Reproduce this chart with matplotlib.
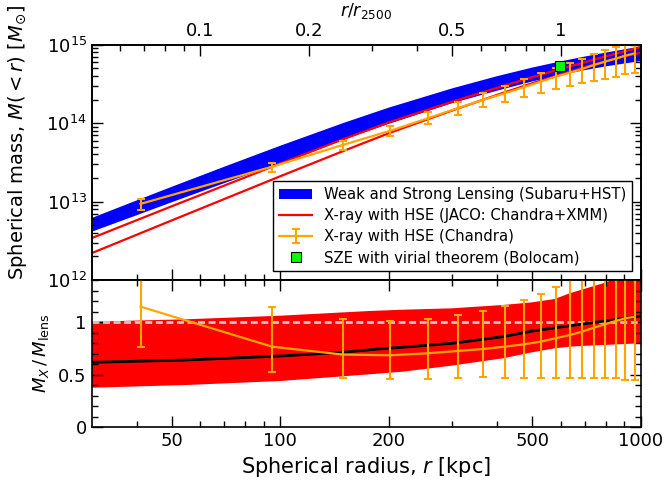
import matplotlib
matplotlib.use('Agg')
import matplotlib.pyplot as plt
from matplotlib.ticker import FixedLocator, FixedFormatter, NullFormatter, MultipleLocator

# ---------------- data ----------------
r2500 = 600.0  # kpc

# Lensing (Subaru+HST) mass band
lens_r = [30, 40, 50, 70, 100, 150, 200, 300, 400, 500, 600, 700, 800, 1000]
lens_hi = [6.17e12, 1.035e13, 1.542e13, 2.786e13, 5.152e13, 1.009e14, 1.578e14,
           2.780e14, 3.981e14, 5.117e14, 6.138e14, 7.079e14, 7.943e14, 9.506e14]
lens_lo = [4.12e12, 6.7e12, 9.8e12, 1.72e13, 3.1e13, 6.2e13, 9.8e13,
           1.8e14, 2.6e14, 3.4e14, 4.1e14, 4.75e14, 5.3e14, 6.2e14]

# X-ray JACO (Chandra+XMM) two curves
jaco_r = [30, 50, 100, 150, 200, 300, 400, 500, 600, 800, 1000]
jaco_hi = [3.42e12, 8.71e12, 3.055e13, 6.28e13, 1.023e14, 1.879e14, 2.831e14,
           3.855e14, 4.932e14, 7.129e14, 9.354e14]
jaco_lo = [2.20e12, 5.75e12, 2.104e13, 4.436e13, 7.447e13, 1.452e14, 2.301e14,
           3.228e14, 4.207e14, 6.209e14, 7.943e14]

# X-ray HSE (Chandra) points
chandra_r = [41, 95, 149, 202, 256, 310, 365, 419, 473, 527, 580, 635, 687, 740,
             795, 850, 905, 960]
chandra_m = [9.35e12, 2.79e13, 5.27e13, 8.0e13, 1.15e14, 1.55e14, 1.98e14, 2.40e14,
             2.87e14, 3.38e14, 3.91e14, 4.40e14, 4.90e14, 5.50e14, 6.07e14, 6.63e14,
             7.25e14, 7.76e14]
chandra_hi = [1.08e13, 3.14e13, 5.93e13, 9.3e13, 1.40e14, 1.88e14, 2.40e14, 3.00e14,
              3.62e14, 4.33e14, 5.10e14, 5.80e14, 6.58e14, 7.62e14, 8.55e14, 9.45e14,
              1.05e15, 1.10e15]
chandra_lo = [7.83e12, 2.41e13, 4.56e13, 6.87e13, 9.68e13, 1.27e14, 1.60e14, 1.88e14,
              2.18e14, 2.40e14, 2.70e14, 2.98e14, 3.22e14, 3.45e14, 3.62e14, 3.91e14,
              4.20e14, 4.33e14]

# SZE (Bolocam)
sze_r = [598]
sze_m = [5.36e14]

# Ratio panel
ratio_pts = [1.146, 0.765, 0.69, 0.683, 0.702, 0.724, 0.743, 0.765, 0.787, 0.813,
             0.845, 0.876, 0.908, 0.946, 0.978, 1.01, 1.035, 1.05]
ratio_hi = [1.60, 1.14, 1.029, 1.012, 1.029, 1.067, 1.108, 1.155, 1.212, 1.27, 1.333,
            1.45, 1.55, 1.65, 1.75, 1.85, 1.95, 2.0]
ratio_lo = [0.765, 0.52, 0.47, 0.454, 0.454, 0.464, 0.473, 0.47, 0.47, 0.47, 0.47,
            0.47, 0.47, 0.468, 0.464, 0.464, 0.45, 0.45]

band_r = [30, 55, 100, 177, 219, 298, 414, 498, 576, 634, 705, 784, 1000]
band_hi = [1.003, 1.026, 1.06, 1.105, 1.117, 1.13, 1.162, 1.187, 1.219, 1.273, 1.321,
           1.368, 1.5]
band_lo = [0.374, 0.40, 0.438, 0.502, 0.527, 0.584, 0.654, 0.711, 0.749, 0.765, 0.774,
           0.781, 0.797]

ratio_line_r = [30, 55, 100, 148, 187, 229, 300, 414, 500, 690, 1000]
ratio_line = [0.616, 0.638, 0.676, 0.711, 0.743, 0.765, 0.797, 0.86, 0.914, 0.981, 1.057]

xticks = [50, 100, 200, 500, 1000]
xminor = [40, 60, 70, 80, 90, 300, 400, 600, 700, 800, 900]
top_ticks = [0.1, 0.2, 0.5, 1]
top_minor = [0.06, 0.07, 0.08, 0.09, 0.3, 0.4, 0.6, 0.7, 0.8, 0.9]

# ---------------- figure ----------------
W, H = 668, 480
fig = plt.figure(figsize=(W / 100, H / 100), dpi=100)
L, R = 91.7, 641.0
ax1 = fig.add_axes([L / W, 1 - 280 / H, (R - L) / W, (280 - 44.7) / H])
ax2 = fig.add_axes([L / W, 1 - 427 / H, (R - L) / W, (427 - 280) / H])

orange = '#FFA500'

# ---- top panel ----
h_lens = ax1.fill_between(lens_r, lens_lo, lens_hi, facecolor='blue', edgecolor='none',
                          linewidth=0, zorder=1)
h_jaco, = ax1.plot(jaco_r, jaco_hi, color='red', lw=1.6, zorder=2)
ax1.plot(jaco_r, jaco_lo, color='red', lw=1.6, zorder=2)
yerr_top = [[m - lo for m, lo in zip(chandra_m, chandra_lo)],
            [hi - m for m, hi in zip(chandra_m, chandra_hi)]]
h_chandra = ax1.errorbar(chandra_r, chandra_m, yerr=yerr_top, color=orange, lw=1.6,
                         elinewidth=1.5, capsize=3, capthick=1.5, zorder=3)
h_sze, = ax1.plot(sze_r, sze_m, ls='none', marker='s', ms=7.5, mfc='#00FF00',
                  mec='black', mew=0.8, zorder=5)

ax1.set_xscale('log')
ax1.set_yscale('log')
ax1.set_xlim(30, 1000)
ax1.set_ylim(1e12, 1e15)
ax1.xaxis.set_major_locator(FixedLocator(xticks))
ax1.xaxis.set_minor_locator(FixedLocator(xminor))
ax1.xaxis.set_major_formatter(NullFormatter())
ax1.xaxis.set_minor_formatter(NullFormatter())

ax1.set_ylabel(r'Spherical mass, $M(<r)$ [$M_{\odot}$]', fontsize=14)
ax1.yaxis.set_label_coords(-0.115, 0.585)

leg = ax1.legend([h_lens, h_jaco, h_chandra, h_sze],
                 ['Weak and Strong Lensing (Subaru+HST)',
                  'X-ray with HSE (JACO: Chandra+XMM)',
                  'X-ray with HSE (Chandra)',
                  'SZE with virial theorem (Bolocam)'],
                 loc='lower right', fontsize=10.7, frameon=True, fancybox=False,
                 framealpha=1, edgecolor='black', borderaxespad=0.6,
                 handlelength=2.2, labelspacing=0.4)
leg.get_frame().set_linewidth(1.0)

# top secondary axis
axt = ax1.twiny()
axt.set_xscale('log')
axt.set_xlim(30 / r2500, 1000 / r2500)
axt.xaxis.set_major_locator(FixedLocator(top_ticks))
axt.xaxis.set_major_formatter(FixedFormatter(['0.1', '0.2', '0.5', '1']))
axt.xaxis.set_minor_locator(FixedLocator(top_minor))
axt.xaxis.set_minor_formatter(NullFormatter())
axt.set_xlabel(r'$r/r_{2500}$', fontsize=12.5)
axt.tick_params(axis='x', which='major', direction='in', length=8, width=1,
                labelsize=13, top=True, bottom=False)
axt.tick_params(axis='x', which='minor', direction='in', length=4, width=1,
                top=True, bottom=False)

ax1.tick_params(axis='both', which='major', direction='in', length=8, width=1,
                labelsize=13, right=True, top=False, bottom=True)
ax1.tick_params(axis='both', which='minor', direction='in', length=4, width=1,
                right=True, top=False, bottom=True)

# ---- bottom panel ----
ax2.fill_between(band_r, band_lo, band_hi, facecolor='red', edgecolor='none',
                 linewidth=0, zorder=1)
ax2.axhline(1.0, color='#C8C8C8', lw=2, ls=(0, (2.5, 1.3)), zorder=2)
ax2.plot(ratio_line_r, ratio_line, color='black', lw=2, zorder=3)
yerr_bot = [[v - lo for v, lo in zip(ratio_pts, ratio_lo)],
            [hi - v for v, hi in zip(ratio_pts, ratio_hi)]]
ax2.errorbar(chandra_r, ratio_pts, yerr=yerr_bot, color=orange, lw=1.6,
             elinewidth=1.5, capsize=3, capthick=1.5, zorder=4)

ax2.set_xscale('log')
ax2.set_xlim(30, 1000)
ax2.set_ylim(0, 1.4)
ax2.xaxis.set_major_locator(FixedLocator(xticks))
ax2.xaxis.set_major_formatter(FixedFormatter([str(t) for t in xticks]))
ax2.xaxis.set_minor_locator(FixedLocator(xminor))
ax2.xaxis.set_minor_formatter(NullFormatter())
ax2.yaxis.set_major_locator(FixedLocator([0, 0.5, 1]))
ax2.yaxis.set_major_formatter(FixedFormatter(['0', '0.5', '1']))
ax2.yaxis.set_minor_locator(MultipleLocator(0.1))
ax2.tick_params(axis='both', which='major', direction='in', length=8, width=1,
                labelsize=13, right=True, top=True)
ax2.tick_params(axis='both', which='minor', direction='in', length=4, width=1,
                right=True, top=True)
ax2.set_xlabel(r'Spherical radius, $r$ [kpc]', fontsize=15)
ax2.set_ylabel(r'$M_X\,/\,M_{\rm lens}$', fontsize=13)
ax2.yaxis.set_label_coords(-0.075, 0.5)

for ax in (ax1, ax2, axt):
    for s in ax.spines.values():
        s.set_linewidth(1.2)

fig.savefig('out.png', dpi=100)
